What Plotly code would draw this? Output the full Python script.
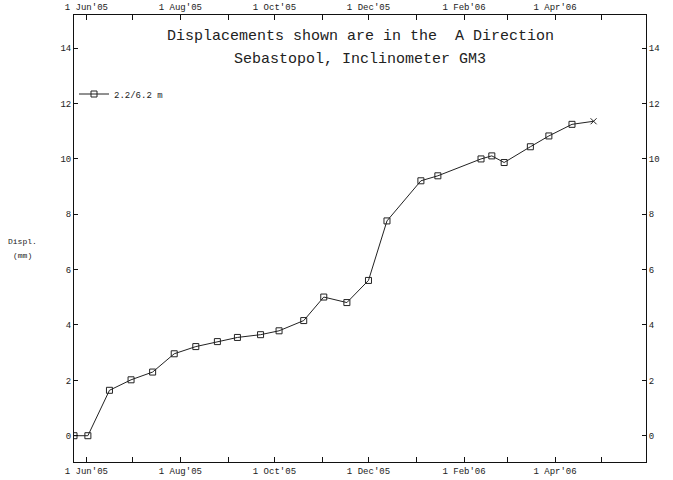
import plotly.graph_objects as go

dates = ["2005-05-24", "2005-06-02", "2005-06-16", "2005-06-30", "2005-07-14",
         "2005-07-28", "2005-08-11", "2005-08-25", "2005-09-07", "2005-09-22",
         "2005-10-04", "2005-10-20", "2005-11-02", "2005-11-17", "2005-12-01",
         "2005-12-13", "2006-01-04", "2006-01-15", "2006-02-12", "2006-02-19",
         "2006-02-27", "2006-03-16", "2006-03-28", "2006-04-12", "2006-04-26"]
displ = [0.0, 0.0, 1.64, 2.02, 2.30, 2.96, 3.22, 3.40, 3.55, 3.65,
         3.79, 4.16, 5.01, 4.81, 5.61, 7.76, 9.21, 9.39, 10.0, 10.11,
         9.87, 10.44, 10.83, 11.25, 11.36]
series_name = "2.2/6.2 m"

tick_dates = ["2005-06-01", "2005-08-01", "2005-10-01", "2005-12-01",
              "2006-02-01", "2006-04-01"]
tick_text = ["1 Jun'05", "1 Aug'05", "1 Oct'05", "1 Dec'05",
             "1 Feb'06", "1 Apr'06"]
y_ticks = [0, 2, 4, 6, 8, 10, 12, 14]

MONO = "Liberation Mono, Courier New, monospace"
INK = "#222222"
symbols = ["square-open"] * (len(displ) - 1) + ["x-thin-open"]

fig = go.Figure()
fig.add_trace(go.Scatter(
    x=dates, y=displ, mode="lines+markers", name=series_name,
    line=dict(color=INK, width=1),
    marker=dict(symbol=symbols, size=6, color=INK,
                line=dict(color=INK, width=1)),
))
# dummy trace to activate top/right axes
fig.add_trace(go.Scatter(x=[dates[0]], y=[displ[0]], xaxis="x2", yaxis="y2",
                         mode="markers", marker=dict(opacity=0),
                         showlegend=False, hoverinfo="skip"))

xcommon = dict(
    type="date", range=["2005-05-24", "2006-05-30"], automargin=False,
    tickvals=tick_dates, ticktext=tick_text,
    ticks="inside", ticklen=5, tickcolor="#111",
    minor=dict(dtick="M1", tick0="2005-06-01", ticks="inside", ticklen=5,
               tickcolor="#111", showgrid=False),
    showline=True, linecolor="#111", linewidth=1,
    showgrid=False, zeroline=False,
    tickfont=dict(family=MONO, size=9, color=INK),
)
ycommon = dict(
    range=[-0.95, 15.2], tickvals=y_ticks, automargin=False,
    ticks="inside", ticklen=4, tickcolor="#111",
    showline=True, linecolor="#111", linewidth=1,
    showgrid=False, zeroline=False,
    tickfont=dict(family=MONO, size=9, color=INK),
)

W, H = 673, 480
l, r, t, b = 74, 27, 15, 18
pw, ph = W - l - r, H - t - b


def px(x):
    return (x - l) / pw


def py(y):
    return (H - b - y) / ph


def label(text, x, y, size):
    return dict(text=text, x=px(x), y=py(y), xref="paper", yref="paper",
                xanchor="center", yanchor="middle", showarrow=False,
                font=dict(family=MONO, size=size, color=INK))


fig.update_layout(
    width=W, height=H,
    margin=dict(l=l, r=r, t=t, b=b, autoexpand=False),
    paper_bgcolor="white", plot_bgcolor="white",
    xaxis=dict(**xcommon, side="bottom"),
    xaxis2=dict(**xcommon, side="top", overlaying="x", matches="x"),
    yaxis=dict(**ycommon, side="left"),
    yaxis2=dict(**ycommon, side="right", overlaying="y", matches="y"),
    showlegend=True,
    legend=dict(x=px(74), y=py(94), xanchor="left", yanchor="middle",
                bgcolor="rgba(0,0,0,0)",
                font=dict(family=MONO, size=9, color=INK)),
    annotations=[
        label("Displacements shown are in the  A Direction", 360, 36, 15),
        label("Sebastopol, Inclinometer GM3", 360, 59, 15),
        label("Displ.", 22, 241, 8),
        label("(mm)", 22, 256, 8),
    ],
)

fig.write_html("out.html",
               config={"displayModeBar": False},
               post_script="document.body.style.margin='0px';"
                           "document.body.style.overflow='hidden';")
